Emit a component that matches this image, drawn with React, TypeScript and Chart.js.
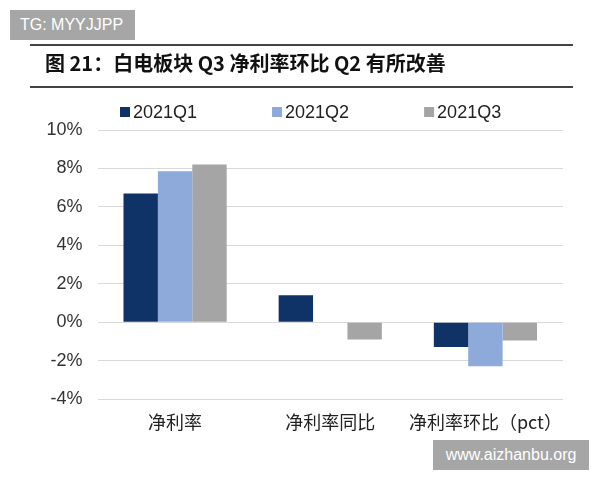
import React, { useEffect, useRef } from "react";
import { Chart, registerables } from "chart.js";

Chart.register(...registerables);

const categories = ["净利率", "净利率同比", "净利率环比（pct）"];
const seriesNames = ["2021Q1", "2021Q2", "2021Q3"];
const q1Values = [6.7, 1.4, -1.3];
const q2Values = [7.85, 0, -2.3];
const q3Values = [8.2, -0.9, -0.95];
const seriesColors = ["#0f3366", "#8eaadb", "#a5a5a5"];
const yTicks = [-4, -2, 0, 2, 4, 6, 8, 10];

const titleText = "图 21：白电板块 Q3 净利率环比 Q2 有所改善";

const legendPlugin = {
  id: "customLegend",
  afterDraw(chart: any) {
    const ctx = chart.ctx;
    const area = chart.chartArea;
    ctx.save();
    ctx.font = "18px 'Liberation Sans', Arial, sans-serif";
    ctx.textBaseline = "middle";
    ctx.textAlign = "left";
    const y = area.top - 18;
    let x = area.left + 22.5;
    chart.data.datasets.forEach((ds: any) => {
      ctx.fillStyle = ds.backgroundColor;
      ctx.fillRect(x, y - 5, 10, 10);
      ctx.fillStyle = "#222";
      ctx.fillText(ds.label, x + 13, y + 1);
      x += 13 + ctx.measureText(ds.label).width + 75;
    });
    ctx.restore();
  },
};

export default function App() {
  const canvasRef = useRef<HTMLCanvasElement | null>(null);

  useEffect(() => {
    if (!canvasRef.current) return;
    const values = [q1Values, q2Values, q3Values];
    const chart = new Chart(canvasRef.current, {
      type: "bar",
      data: {
        labels: categories,
        datasets: seriesNames.map((name, i) => ({
          label: name,
          data: values[i],
          backgroundColor: seriesColors[i],
          borderWidth: 0,
          categoryPercentage: 0.665,
          barPercentage: 1.0,
        })),
      },
      plugins: [legendPlugin],
      options: {
        animation: false,
        responsive: false,
        maintainAspectRatio: false,
        layout: { padding: { top: 130, right: 37, left: 0, bottom: 0 } },
        plugins: {
          legend: { display: false },
          tooltip: { enabled: false },
          title: { display: false },
        },
        scales: {
          x: {
            grid: { display: false, drawTicks: false },
            border: { display: false },
            ticks: {
              color: "#222",
              padding: 12,
              font: { family: "'Noto Sans CJK SC', sans-serif", size: 18 },
              maxRotation: 0,
              autoSkip: false,
            },
            afterFit: (s: any) => {
              s.height = 81;
            },
          },
          y: {
            min: -4,
            max: 10,
            afterBuildTicks: (s: any) => {
              s.ticks = yTicks.map((v) => ({ value: v }));
            },
            grid: { color: "#d9d9d9", lineWidth: 1, drawTicks: false },
            border: { display: false },
            ticks: {
              color: "#333",
              padding: 15,
              font: { family: "'Liberation Sans', Arial, sans-serif", size: 18 },
              callback: (v: any) => `${v}%`,
            },
            afterFit: (s: any) => {
              s.width = 97.5;
            },
          },
        },
      },
    });
    return () => chart.destroy();
  }, []);

  return (
    <div style={{ position: "absolute", left: 0, top: 0, width: 600, height: 480, background: "#fff", overflow: "hidden" }}>
      <canvas ref={canvasRef} width={600} height={480} style={{ position: "absolute", left: 0, top: 0 }} />
      <div style={{ position: "absolute", left: 30, top: 44, width: 543, height: 0, borderTop: "2px solid #444" }} />
      <div style={{ position: "absolute", left: 30, top: 86, width: 543, height: 0, borderTop: "2px solid #444" }} />
      <div
        style={{
          position: "absolute",
          left: 45,
          top: 50,
          fontFamily: "'Noto Sans CJK SC', sans-serif",
          fontWeight: 700,
          fontSize: 20,
          lineHeight: "26px",
          color: "#111",
          whiteSpace: "nowrap",
        }}
      >
        {titleText}
      </div>
      <div
        style={{
          position: "absolute",
          left: 10,
          top: 10,
          width: 125,
          height: 30,
          background: "#a6a6a6",
          color: "#fff",
          fontFamily: "'Liberation Sans', Arial, sans-serif",
          fontSize: 16,
          lineHeight: "30px",
          paddingLeft: 10,
          boxSizing: "border-box",
        }}
      >
        TG: MYYJJPP
      </div>
      <div
        style={{
          position: "absolute",
          left: 433,
          top: 440,
          width: 156,
          height: 30,
          background: "#a6a6a6",
          color: "#fff",
          fontFamily: "'Liberation Sans', Arial, sans-serif",
          fontSize: 16,
          lineHeight: "30px",
          textAlign: "center",
        }}
      >
        www.aizhanbu.org
      </div>
    </div>
  );
}
